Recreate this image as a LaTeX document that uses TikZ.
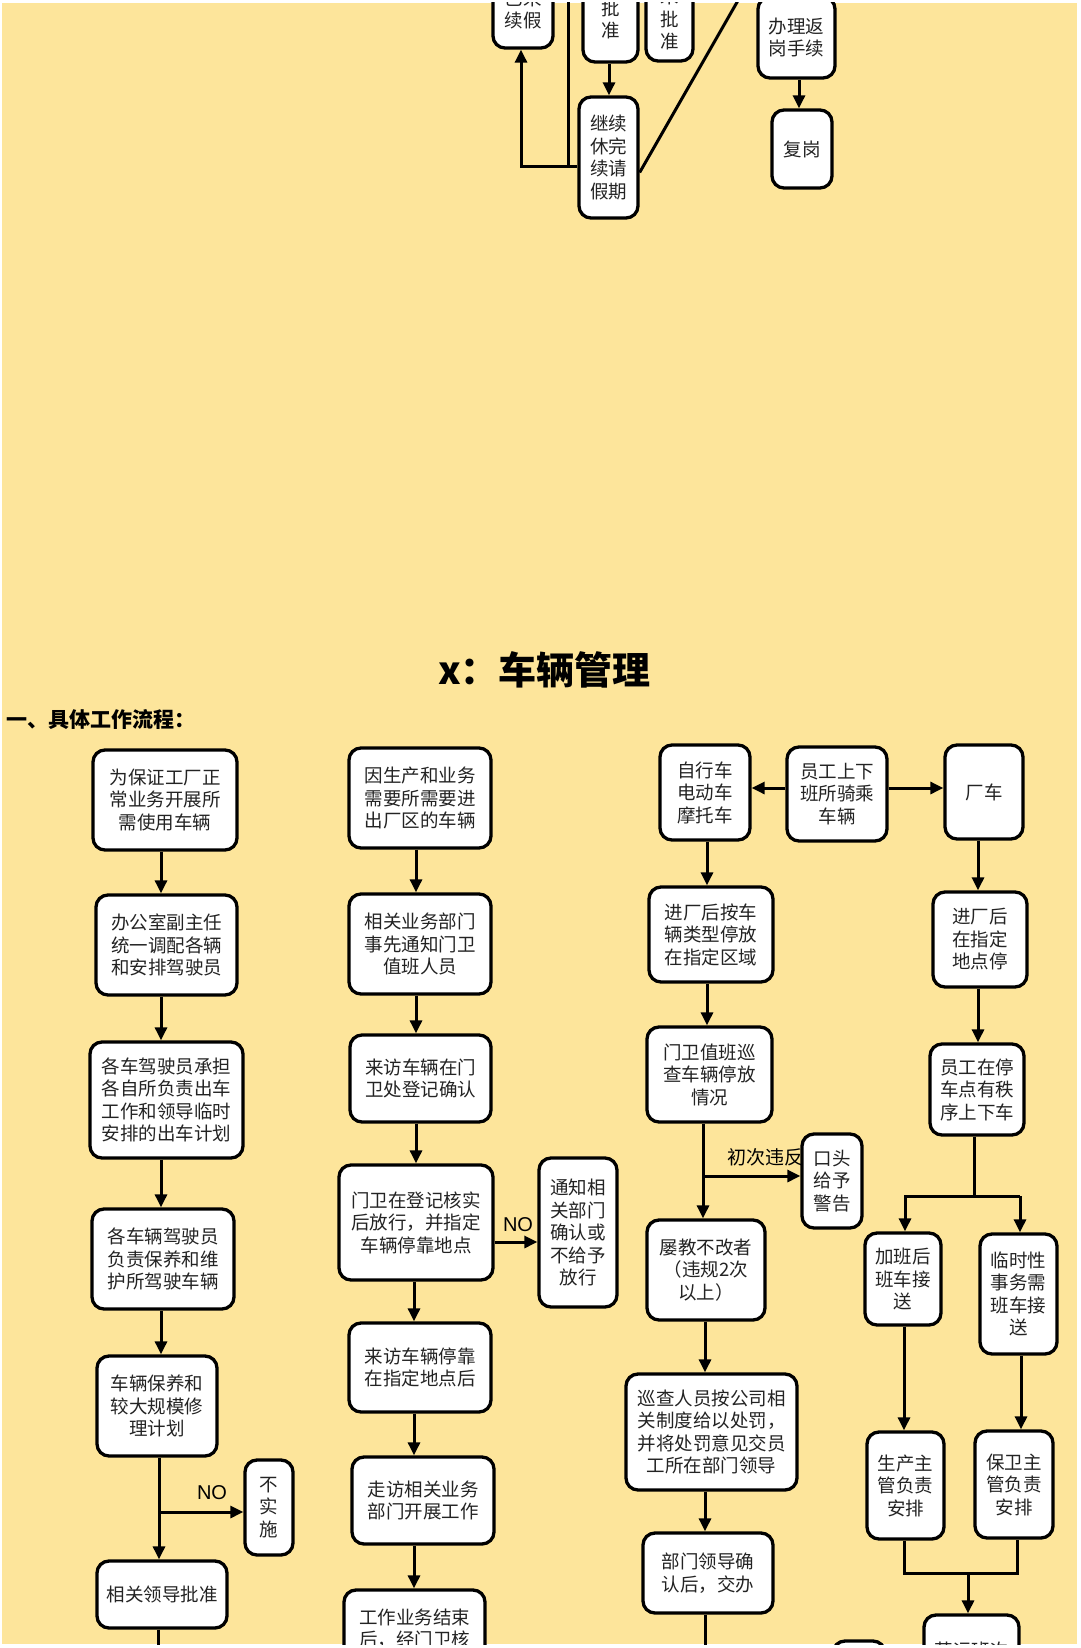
\documentclass[tikz,border=0pt]{standalone}
\usepackage{fontspec}
\setmainfont{Liberation Sans}
\newfontfamily\cjk{Noto Sans CJK SC}
\usetikzlibrary{arrows.meta}
\definecolor{bgy}{RGB}{253,229,155}
\definecolor{txt}{RGB}{35,35,35}
\tikzset{
  box/.style={draw=black, line width=3.3pt, rounded corners=12pt, fill=white, inner sep=0pt,
    align=center, text=txt, font=\cjk\fontsize{18.5}{22.5}\selectfont},
  sz/.style 2 args={minimum width=#1pt, minimum height=#2pt},
  conn/.style={draw=black, line width=3pt, line join=miter},
  arr/.style={conn, -{Triangle[length=13pt,width=12pt]}},
  nolbl/.style={inner sep=0pt, font=\fontsize{20}{20}\selectfont},
  cjklbl/.style={inner sep=0pt, font=\cjk\fontsize{19}{19}\selectfont},
}
\begin{document}
\begin{tikzpicture}[x=1pt,y=-1pt]
\fill[white] (0,0) rectangle (1080,1648);
\useasboundingbox (0,0) rectangle (1080,1648);
\fill[bgy] (2,3) rectangle (1077,1644);
\begin{scope}
\clip (2,3) rectangle (1077,1644);

% ---------- top section (continued from previous page) ----------
\node[box, sz={60}{77}] (T1) at (523,9.5) {已来\\续假};
\node[box, sz={55}{85}] (T2) at (610.5,19.5) {批\\准};
\node[box, sz={47}{84}] (T3) at (669.5,19) {未\\批\\准};
\node[box, sz={77}{81}] (T4) at (796.5,37.5) {办理返\\岗手续};
\node[box, sz={60}{78}] (T5) at (802,149) {复岗};
\node[box, sz={59}{121}] (T6) at (608.5,157.5) {继续\\休完\\续请\\假期};

\coordinate (t2x) at (609,0);
\draw[arr] (T2.south -| t2x) -- (T6.north -| t2x);
\coordinate (t4x) at (799,0);
\draw[arr] (T4.south -| t4x) -- (T5.north -| t4x);
\coordinate (j1) at (521,167);
\draw[arr] (T6.west |- j1) -- (j1) -- (j1 |- T1.south);
\coordinate (j2) at (568,-10);
\draw[conn] (j2) -- (j2 |- j1);
\coordinate (dg) at (744,-10);
\draw[conn] ([yshift=-15pt]T6.east) -- (dg);

% ---------- title ----------
\node[inner sep=0pt, font=\cjk\bfseries\fontsize{38}{38}\selectfont] (title) at (544.5,670) {x：车辆管理};
\node[inner sep=0pt, anchor=west, font=\cjk\bfseries\fontsize{21}{21}\selectfont] (sub) at (6,720) {一、具体工作流程：};

% ---------- column 1 ----------
\node[box, sz={144}{100}] (B1) at (165,800) {为保证工厂正\\常业务开展所\\需使用车辆};
\node[box, sz={141}{100}] (B2) at (166.5,945) {办公室副主任\\统一调配各辆\\和安排驾驶员};
\node[box, sz={153}{116}] (B3) at (166.5,1100) {各车驾驶员承担\\各自所负责出车\\工作和领导临时\\安排的出车计划};
\node[box, sz={142}{100}] (B4) at (163,1259) {各车辆驾驶员\\负责保养和维\\护所驾驶车辆};
\node[box, sz={120}{100}] (B5) at (157,1406) {车辆保养和\\较大规模修\\理计划};
\node[box, sz={48}{95}] (N1) at (269,1507.5) {不\\实\\施};
\node[box, sz={130}{67}] (B6) at (162,1594.5) {相关领导批准};

\coordinate (c1) at (161,0);
\draw[arr] (B1.south -| c1) -- (B2.north -| c1);
\draw[arr] (B2.south -| c1) -- (B3.north -| c1);
\draw[arr] (B3.south -| c1) -- (B4.north -| c1);
\draw[arr] (B4.south -| c1) -- (B5.north -| c1);
\coordinate (c1b) at (159,1512);
\draw[arr] (B5.south -| c1b) -- (B6.north -| c1b);
\draw[arr] (c1b) -- (c1b -| N1.west);
\node[nolbl] (noA) at (212,1493) {NO};
\coordinate (c1e) at (158,1660);
\draw[conn] (B6.south -| c1e) -- (c1e);

% ---------- column 2 ----------
\node[box, sz={142}{100}] (C1) at (420,798) {因生产和业务\\需要所需要进\\出厂区的车辆};
\node[box, sz={142}{100}] (C2) at (420,944) {相关业务部门\\事先通知门卫\\值班人员};
\node[box, sz={141}{87}] (C3) at (420.5,1078.5) {来访车辆在门\\卫处登记确认};
\node[box, sz={154}{115}] (C4) at (416,1222.5) {门卫在登记核实\\后放行，并指定\\车辆停靠地点};
\node[box, sz={78}{149}] (C4n) at (578,1232.5) {通知相\\关部门\\确认或\\不给予\\放行};
\node[box, sz={142}{89}] (C5) at (420,1367.5) {来访车辆停靠\\在指定地点后};
\node[box, sz={142}{87}] (C6) at (423,1500.5) {走访相关业务\\部门开展工作};
\node[box, sz={141}{77}] (C7) at (414.5,1628.5) {工作业务结束\\后，经门卫核};

\coordinate (c2) at (416,0);
\draw[arr] (C1.south -| c2) -- (C2.north -| c2);
\draw[arr] (C2.south -| c2) -- (C3.north -| c2);
\draw[arr] (C3.south -| c2) -- (C4.north -| c2);
\coordinate (c2b) at (414,0);
\draw[arr] (C4.south -| c2b) -- (C5.north -| c2b);
\draw[arr] (C5.south -| c2b) -- (C6.north -| c2b);
\draw[arr] (C6.south -| c2b) -- (C7.north -| c2b);
\coordinate (c2n) at (0,1242);
\draw[arr] (C4.east |- c2n) -- (C4n.west |- c2n);
\node[nolbl] (noB) at (518,1225) {NO};

% ---------- column 3 ----------
\node[cjklbl, anchor=west] (lbl1) at (727,1157) {初次违反};
\node[box, sz={100}{94}] (D0) at (837,794) {员工上下\\班所骑乘\\车辆};
\node[box, sz={90}{95}] (D1) at (705,792.5) {自行车\\电动车\\摩托车};
\node[box, sz={78}{94}] (D2) at (984,792) {厂车};
\node[box, sz={124}{95}] (D3) at (711,934.5) {进厂后按车\\辆类型停放\\在指定区域};
\node[box, sz={125}{95}] (D4) at (709.5,1074.5) {门卫值班巡\\查车辆停放\\情况};
\node[box, sz={60}{94}] (D4w) at (832,1181) {口头\\给予\\警告};
\node[box, sz={118}{100}] (D5) at (706,1270) {屡教不改者\\（违规2次\\以上）};
\node[box, sz={171}{116}] (D6) at (711.5,1432) {巡查人员按公司相\\关制度给以处罚，\\并将处罚意见交员\\工所在部门领导};
\node[box, sz={130}{80}] (D7) at (708,1573) {部门领导确\\认后，交办};
\node[box, sz={52}{78}] (D8) at (859,1680) {};

\coordinate (r0) at (0,788);
\draw[arr] (D0.west |- r0) -- (D1.east |- r0);
\draw[arr] (D0.east |- r0) -- (D2.west |- r0);
\coordinate (c3) at (707,0);
\draw[arr] (D1.south -| c3) -- (D3.north -| c3);
\draw[arr] (D3.south -| c3) -- (D4.north -| c3);
\coordinate (c3j) at (703,1176);
\draw[arr] (D4.south -| c3j) -- (D5.north -| c3j);
\draw[arr] (c3j) -- (c3j -| D4w.west);
\coordinate (c3b) at (705,0);
\draw[arr] (D5.south -| c3b) -- (D6.north -| c3b);
\draw[arr] (D6.south -| c3b) -- (D7.north -| c3b);
\coordinate (c3e) at (705,1660);
\draw[conn] (D7.south -| c3e) -- (c3e);

% ---------- column 4 ----------
\node[box, sz={94}{95}] (E1) at (980,939.5) {进厂后\\在指定\\地点停};
\node[box, sz={94}{91}] (E2) at (977,1089.5) {员工在停\\车点有秩\\序上下车};
\node[box, sz={76}{92}] (E3) at (903,1279) {加班后\\班车接\\送};
\node[box, sz={77}{120}] (E4) at (1018.5,1294) {临时性\\事务需\\班车接\\送};
\node[box, sz={77}{107}] (E5) at (905.5,1485.5) {生产主\\管负责\\安排};
\node[box, sz={78}{107}] (E6) at (1014,1484.5) {保卫主\\管负责\\安排};
\node[box, sz={95}{70}] (E7) at (971.5,1650) {营运班次};

\coordinate (c4) at (978,0);
\draw[arr] (D2.south -| c4) -- (E1.north -| c4);
\draw[arr] (E1.south -| c4) -- (E2.north -| c4);
\coordinate (c4j) at (974,1196);
\draw[conn] (E2.south -| c4j) -- (c4j);
\coordinate (c4l) at (905,1196);
\coordinate (c4r) at (1020,1196);
\draw[arr] (c4r) -- (c4l) -- (c4l |- E3.north);
\draw[arr] (c4r) -- (c4r |- E4.north);
\coordinate (c4a) at (904,1573);
\coordinate (c4b) at (1017,1573);
\coordinate (c4c) at (1021,0);
\draw[arr] (E3.south -| c4a) -- (E5.north -| c4a);
\draw[arr] (E4.south -| c4c) -- (E6.north -| c4c);
\draw[conn] (E5.south -| c4a) -- (c4a) -- (c4b) -- (E6.south -| c4b);
\coordinate (c4m) at (968,1573);
\draw[arr] (c4m) -- (c4m |- E7.north);
\end{scope}
\end{tikzpicture}
\end{document}
